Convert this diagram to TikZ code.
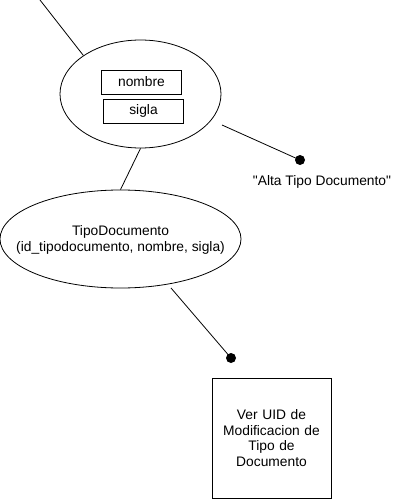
\documentclass[tikz,border=0pt]{standalone}
\usepackage{fontspec}
\setmainfont{Liberation Sans}
\newfontfamily\plainsans{Liberation Sans}
\usetikzlibrary{shapes.geometric}
\begin{document}
\begin{tikzpicture}[x=1pt,y=-1pt,
  ell/.style={draw,ellipse,line width=0.8pt,inner sep=0pt},
  attr/.style={draw,rectangle,line width=0.8pt,minimum width=80pt,minimum height=24pt,inner sep=0pt,font=\fontsize{13.8}{15.5}\selectfont},
  dotnode/.style={circle,fill=black,minimum size=10pt,inner sep=0pt},
  conn/.style={line width=0.8pt},
  lbl/.style={font=\fontsize{13.8}{15.5}\selectfont,align=center}]
\useasboundingbox (0,0) rectangle (412,500);
\node[ell,minimum width=161pt,minimum height=108pt] (e1) at (140.5,94) {};
\node[attr] (nombre) at (141.5,82) {nombre};
\node[attr] (sigla) at (143.5,111) {sigla};
\node[ell,minimum width=241pt,minimum height=98pt] (e2) at (120.5,239) {};
\node[lbl] (e2text) at (120.5,240) {TipoDocumento\\(id\_tipodocumento, nombre, sigla)};
\node[dotnode] (d1) at (300,160) {};
\node[lbl,font=\plainsans\fontsize{13.8}{15.5}\selectfont] (alta) at (322,182) {"Alta Tipo Documento"};
\node[dotnode] (d2) at (231,358) {};
\node[draw,rectangle,line width=0.8pt,minimum width=119pt,minimum height=120pt,lbl,text width=112pt] (ver) at (271.5,438) {Ver UID de\\Modificacion de\\Tipo de\\Documento};
\coordinate (top) at (40,0);
\coordinate (a1) at (222,125);
\coordinate (a3) at (171,288);
\draw[conn] (top) -- (e1.146);
\draw[conn] (e1.south) -- (e2.north);
\draw[conn] (a1) -- (d1.center);
\draw[conn] (a3) -- (d2.center);
\end{tikzpicture}
\end{document}
